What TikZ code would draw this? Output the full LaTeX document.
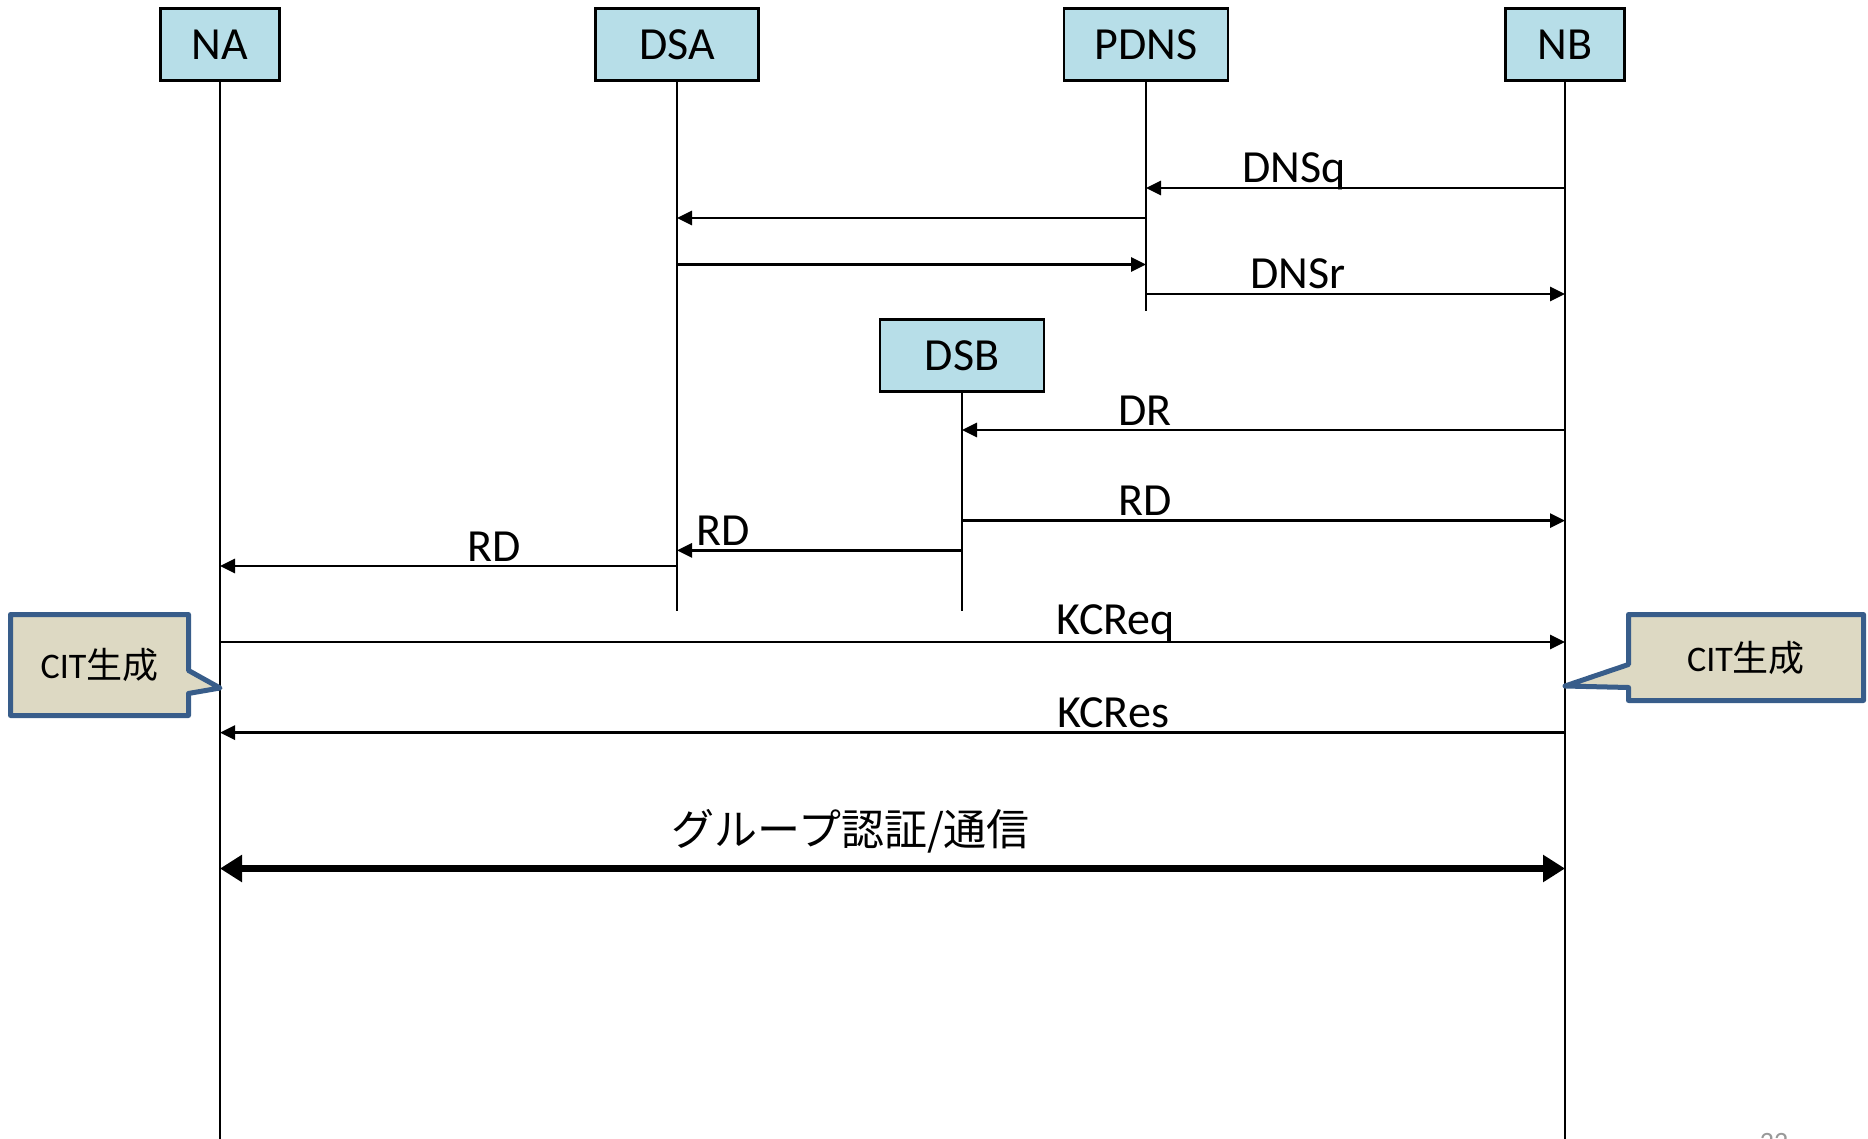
\documentclass[tikz,border=0pt]{standalone}
\usepackage{fontspec}
\setmainfont{Carlito}
\newfontfamily\jpfont{Noto Sans CJK JP}
\usetikzlibrary{arrows.meta,shapes.callouts}

\definecolor{actorfill}{HTML}{B7DEE8}
\definecolor{notefill}{HTML}{DDD9C3}
\definecolor{noteline}{HTML}{385D8A}

\tikzset{
  actor/.style={draw=black, fill=actorfill, line width=2.8pt, minimum height=72pt,
    inner sep=0pt, font=\fontsize{46}{50}\selectfont},
  life/.style={line width=2.8pt},
  msg/.style={line width=2.8pt, -{Triangle[length=15pt,width=14pt]}},
  lbl/.style={anchor=base, yshift=5pt, inner sep=0pt, font=\fontsize{46}{50}\selectfont},
  note/.style={rectangle callout, draw=noteline, fill=notefill, line width=5pt,
    line join=round, callout pointer width=23pt, font=\fontsize{36}{40}\selectfont},
}

\begin{document}
\begin{tikzpicture}[x=1pt, y=-1pt]
  \useasboundingbox (0,0) rectangle (1868,1139);
  \clip (0,0) rectangle (1868,1139);
  % participants
  \foreach \n/\t/\x/\w in {na/NA/220/119, dsa/DSA/677/163, pdns/PDNS/1146/164, nb/NB/1565/119} {
    \node[actor, minimum width=\w pt] (\n) at (\x,44.5) {\t};
  }
  \node[actor, minimum width=164pt] (dsb) at (962,355.5) {DSB};
  % lifelines
  \foreach \n/\e in {na/1139, dsa/611, pdns/311, nb/1139, dsb/611} {
    \coordinate (\n-end) at (\n.south |- 0,\e);
    \draw[life] (\n.south) -- (\n-end);
  }
  % messages
  \draw[msg] (nb |- 0,188) -- node[lbl, pos=.646] {DNSq} (pdns |- 0,188);
  \draw[msg] (pdns |- 0,218) -- (dsa |- 0,218);
  \draw[msg] (dsa |- 0,264.5) -- (pdns |- 0,264.5);
  \draw[msg] (pdns |- 0,294) -- node[lbl, pos=.363] {DNSr} (nb |- 0,294);
  \draw[msg] (nb |- 0,430) -- node[lbl, pos=.697] {DR} (dsb |- 0,430);
  \draw[msg] (dsb |- 0,520.6) -- node[lbl, pos=.303] {RD} (nb |- 0,520.6);
  \draw[msg] (dsb |- 0,550.4) -- node[lbl, pos=.838] {RD} (dsa |- 0,550.4);
  \draw[msg] (dsa |- 0,566) -- node[lbl, pos=.4] {RD} (na |- 0,566);
  \draw[msg] (na |- 0,642) -- node[lbl, pos=.666, yshift=3pt] {KCReq} (nb |- 0,642);
  \draw[msg] (nb |- 0,732.6) -- node[lbl, pos=.336] {KCRes} (na |- 0,732.6);
  \draw[line width=7pt, {Triangle[length=22pt,width=26pt]}-{Triangle[length=22pt,width=26pt]}]
    (na |- 0,868.5) -- node[lbl, pos=.469, yshift=18pt, font=\jpfont\fontsize{43}{48}\selectfont]
    {グループ認証/通信} (nb |- 0,868.5);
  % notes
  \node[note, minimum width=178pt, minimum height=101pt,
    callout absolute pointer={(na |- 0,688)}] (citA) at (99.5,665) {CIT{\jpfont 生成}};
  \node[note, minimum width=235pt, minimum height=86pt,
    callout absolute pointer={(nb |- 0,686)}] (citB) at (1746,657.5) {CIT{\jpfont 生成}};
  \node[anchor=base, inner sep=0pt, text=gray!80, font=\fontsize{28}{30}\selectfont] (pgno) at (1774,1151) {22};
\end{tikzpicture}
\end{document}
